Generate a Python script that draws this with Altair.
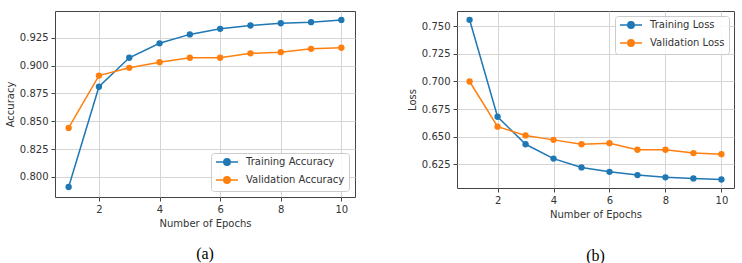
import altair as alt
import pandas as pd

epochs = [1, 2, 3, 4, 5, 6, 7, 8, 9, 10]
train_acc = [0.791, 0.881, 0.907, 0.920, 0.928, 0.933, 0.936, 0.938, 0.939, 0.941]
val_acc = [0.844, 0.891, 0.898, 0.903, 0.907, 0.907, 0.911, 0.912, 0.915, 0.916]
train_loss = [0.756, 0.668, 0.643, 0.630, 0.622, 0.618, 0.615, 0.613, 0.612, 0.611]
val_loss = [0.700, 0.659, 0.651, 0.647, 0.643, 0.644, 0.638, 0.638, 0.635, 0.634]

acc_names = ["Training Accuracy", "Validation Accuracy"]
loss_names = ["Training Loss", "Validation Loss"]
colors = ["#1f77b4", "#ff7f0e"]
x_ticks = [2, 4, 6, 8, 10]
acc_ticks = [0.800, 0.825, 0.850, 0.875, 0.900, 0.925]
loss_ticks = [0.625, 0.650, 0.675, 0.700, 0.725, 0.750]

FONT = "DejaVu Sans"
LEG_PATH = ("M-2.75,0L2.75,0"
            "M-0.8,0A0.8,0.8,0,1,1,0.8,0A0.8,0.8,0,1,1,-0.8,0Z"
            "M-0.45,0A0.45,0.45,0,1,1,0.45,0A0.45,0.45,0,1,1,-0.45,0Z"
            "M-0.12,0A0.12,0.12,0,1,1,0.12,0A0.12,0.12,0,1,1,-0.12,0Z")


def long_df(a, b, names):
    return pd.DataFrame({
        "epoch": epochs + epochs,
        "value": a + b,
        "series": [names[0]] * len(a) + [names[1]] * len(b),
    })


def panel(df, names, ytitle, ydomain, yticks, w, h, lorient, loffset, caption, cap_offset, spacer):
    x = alt.X("epoch:Q", title="Number of Epochs",
              scale=alt.Scale(domain=[0.55, 10.45], nice=False, zero=False),
              axis=alt.Axis(values=x_ticks, format="d", labelFlush=False, labelOverlap=False))
    y = alt.Y("value:Q", title=ytitle,
              scale=alt.Scale(domain=ydomain, nice=False, zero=False),
              axis=alt.Axis(values=yticks, format=".3f", labelOverlap=False))
    sc = alt.Scale(domain=names, range=colors)
    leg = alt.Legend(
        title=None, orient=lorient, offset=loffset,
        symbolType=LEG_PATH, symbolSize=64, symbolStrokeWidth=1.5,
        symbolOffset=7, labelOffset=14, rowPadding=4, padding=4,
        labelFont=FONT, labelFontSize=10, labelColor="#333333",
        fillColor="rgba(255,255,255,0.85)", strokeColor="#cccccc",
        cornerRadius=3)
    color = alt.Color("series:N", scale=sc, legend=leg)
    lines = alt.Chart(df).mark_line(strokeWidth=1.5).encode(x=x, y=y, color=color)
    pts = alt.Chart(df).mark_circle(size=40, opacity=1).encode(x=x, y=y, color=color)
    layers = [lines, pts]
    if spacer:
        sp = alt.Chart(pd.DataFrame({"s": [0]})).mark_rule(opacity=0, strokeWidth=1).encode(
            x=alt.value(0), y=alt.value(-3.5), y2=alt.value(0))
        layers.append(sp)
    return alt.layer(*layers).properties(
        width=w, height=h,
        title=alt.TitleParams(caption, orient="bottom", font="Liberation Serif", fontSize=16,
                              fontWeight="normal", color="black", frame="group",
                              anchor="middle", offset=cap_offset))


left = panel(long_df(train_acc, val_acc, acc_names), acc_names, "Accuracy",
             [0.782, 0.949], acc_ticks, 300, 186, "bottom-right", 6, "(a)", 18, True)
right = panel(long_df(train_loss, val_loss, loss_names), loss_names, "Loss",
              [0.6033, 0.764], loss_ticks, 277, 177, "top-right", 5, "(b)", 29, False)

chart = alt.hconcat(left, right, spacing=50).resolve_scale(
    color="independent", x="independent", y="independent"
).resolve_legend(color="independent").properties(
    padding={"left": 4, "top": 7, "right": 0, "bottom": 0},
    background="white",
).configure_view(
    stroke="#444444", strokeWidth=1
).configure_axis(
    labelFont=FONT, labelFontSize=10, labelColor="#333333",
    titleFont=FONT, titleFontSize=10, titleColor="#333333", titleFontWeight="normal",
    domain=False, tickSize=4, tickColor="#444444", tickWidth=1, labelPadding=3,
    gridColor="#d5d5d5", gridWidth=1, titlePadding=4,
)

chart.save("out.html", embed_options={"renderer": "svg", "actions": False})
